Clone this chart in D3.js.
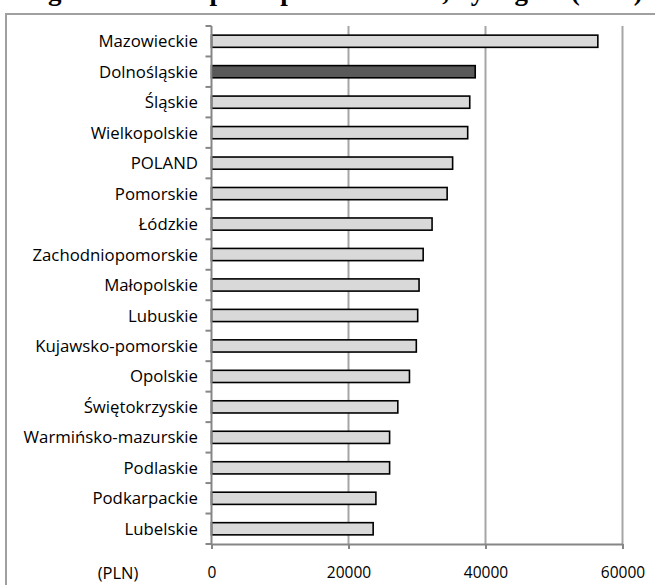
<!DOCTYPE html>
<html>
<head>
<meta charset="utf-8">
<script src="https://cdn.jsdelivr.net/npm/d3@7"></script>
<style>
  html, body { margin: 0; padding: 0; background: #fff; }
  svg { display: block; }
</style>
</head>
<body>
<svg id="chart" width="655" height="585"></svg>
<script>
// GDP per capita by voivodeship, PLN
const categories = [
  "Mazowieckie", "Dolnośląskie", "Śląskie", "Wielkopolskie", "POLAND",
  "Pomorskie", "Łódzkie", "Zachodniopomorskie", "Małopolskie", "Lubuskie",
  "Kujawsko-pomorskie", "Opolskie", "Świętokrzyskie", "Warmińsko-mazurskie",
  "Podlaskie", "Podkarpackie", "Lubelskie"
];
const values = [
  56400, 38500, 37700, 37400, 35200,
  34400, 32200, 30900, 30300, 30100,
  29900, 28900, 27200, 26000,
  26000, 24000, 23600
];
const highlighted = ["Dolnośląskie"];
const xTicks = [0, 20000, 40000, 60000];
const titleText = "Figure 10. GDP per capita in Poland, by region (2009)";
const unitLabel = "(PLN)";

const svg = d3.select("#chart");
const labelFont = "'Open Sans', 'Noto Sans', sans-serif";

// outer chart frame (only top and left edges fall inside the view)
svg.append("path")
  .attr("d", "M6,585 L6,14 L655,14")
  .attr("fill", "none")
  .attr("stroke", "#a0a0a0")
  .attr("stroke-width", 2);

// title, mostly above the visible area
svg.append("text")
  .attr("x", 24)
  .attr("y", -0.5)
  .attr("font-family", "'Liberation Serif', 'Times New Roman', serif")
  .attr("font-weight", "bold")
  .attr("font-size", 27)
  .attr("fill", "#000")
  .text(titleText);

const x = d3.scaleLinear().domain([0, 60000]).range([211.5, 622.5]);
const y = d3.scaleBand().domain(categories).range([26, 544])
  .paddingInner(0.6).paddingOuter(0.3);

const plotTop = y.range()[0], plotBottom = y.range()[1];

// vertical gridlines
svg.append("g")
  .selectAll("line")
  .data(xTicks.filter(d => d > 0))
  .join("line")
  .attr("x1", d => x(d)).attr("x2", d => x(d))
  .attr("y1", plotTop).attr("y2", plotBottom)
  .attr("stroke", "#a6a6a6")
  .attr("stroke-width", 2);

// bars
svg.append("g")
  .selectAll("rect")
  .data(categories.map((c, i) => ({ c, v: values[i] })))
  .join("rect")
  .attr("x", x(0))
  .attr("y", d => y(d.c))
  .attr("width", d => x(d.v) - x(0))
  .attr("height", y.bandwidth())
  .attr("fill", d => highlighted.includes(d.c) ? "#595959" : "#d9d9d9")
  .attr("stroke", "#000")
  .attr("stroke-width", 1.6);

// x axis
const xAxis = svg.append("g")
  .attr("transform", `translate(0,${plotBottom})`)
  .call(d3.axisBottom(x).tickValues(xTicks).tickSize(5).tickSizeOuter(0).tickPadding(18)
    .tickFormat(d3.format("d")));
xAxis.select(".domain").attr("stroke", "#868686").attr("stroke-width", 2);
xAxis.selectAll(".tick line").attr("stroke", "#868686").attr("stroke-width", 2);
xAxis.selectAll(".tick text")
  .attr("font-family", labelFont)
  .attr("font-size", 15.5)
  .attr("fill", "#000");

// y axis: line with ticks on category boundaries
const yAxis = svg.append("g");
yAxis.append("line")
  .attr("x1", x(0)).attr("x2", x(0))
  .attr("y1", plotTop).attr("y2", plotBottom)
  .attr("stroke", "#868686").attr("stroke-width", 2);
const boundaries = d3.range(categories.length + 1).map(i => plotTop + i * y.step());
yAxis.selectAll("line.tick")
  .data(boundaries)
  .join("line")
  .attr("class", "tick")
  .attr("x1", x(0) - 6).attr("x2", x(0))
  .attr("y1", d => d).attr("y2", d => d)
  .attr("stroke", "#868686").attr("stroke-width", 2);

// category labels
svg.append("g")
  .selectAll("text")
  .data(categories)
  .join("text")
  .attr("x", 198)
  .attr("y", d => y(d) + y.bandwidth() / 2)
  .attr("dy", "0.36em")
  .attr("text-anchor", "end")
  .attr("font-family", labelFont)
  .attr("font-size", 16.8)
  .attr("fill", "#000")
  .text(d => d);

// unit label beside the x tick labels
svg.append("text")
  .attr("x", 118)
  .attr("y", plotBottom + 5 + 18)
  .attr("dy", "0.71em")
  .attr("text-anchor", "middle")
  .attr("font-family", labelFont)
  .attr("font-size", 16.5)
  .attr("fill", "#000")
  .text(unitLabel);
</script>
</body>
</html>
